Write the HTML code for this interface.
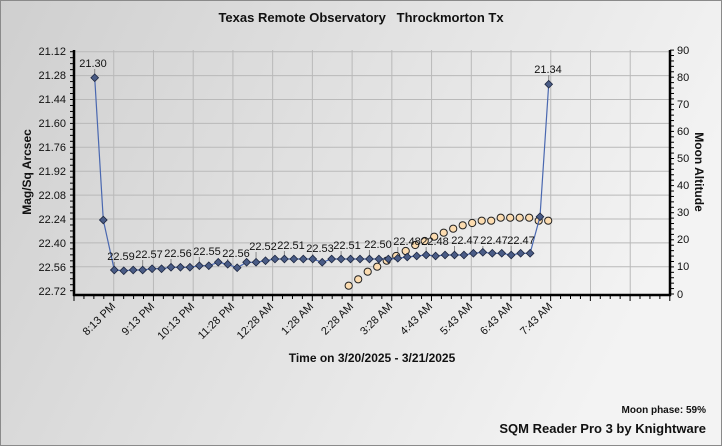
<!DOCTYPE html>
<html><head><meta charset="utf-8"><style>
body{margin:0;width:722px;height:446px;overflow:hidden}
svg{display:block;font-family:"Liberation Sans",sans-serif}
</style></head><body>
<svg id="s" width="722" height="446" viewBox="0 0 722 446">
<defs>
<linearGradient id="bg" x1="0" y1="0" x2="1" y2="0.3">
<stop offset="0" stop-color="#cfcfcf"/><stop offset="1" stop-color="#f3f3f3"/></linearGradient>
</defs>
<rect x="0" y="0" width="722" height="446" fill="url(#bg)"/>
<rect x="0.5" y="0.5" width="721" height="445" fill="none" stroke="#8a8a8a"/>
<text x="361" y="22" text-anchor="middle" font-size="13" font-weight="bold" fill="#111">Texas Remote Observatory&#160;&#160;&#160;Throckmorton Tx</text>
<g id="grid" stroke="#b9b9b9" stroke-width="1"></g>
<g id="ticks" stroke="#000" stroke-width="1"></g>
<line x1="74" y1="50" x2="74" y2="296" stroke="#000" stroke-width="2.5"/>
<line x1="670" y1="50" x2="670" y2="296" stroke="#000" stroke-width="2.5"/>
<line x1="73" y1="295" x2="671" y2="295" stroke="#000" stroke-width="2.5"/>
<g font-size="11" fill="#111" text-anchor="end">
<text x="66" y="55">21.12</text><text x="66" y="79">21.28</text><text x="66" y="103">21.44</text><text x="66" y="127">21.60</text><text x="66" y="151">21.76</text><text x="66" y="175">21.92</text><text x="66" y="199">22.08</text><text x="66" y="223">22.24</text><text x="66" y="247">22.40</text><text x="66" y="271">22.56</text><text x="66" y="295">22.72</text>
</g>
<g font-size="11" fill="#111">
<text x="677" y="54">90</text><text x="677" y="81">80</text><text x="677" y="108">70</text><text x="677" y="135">60</text><text x="677" y="162">50</text><text x="677" y="189">40</text><text x="677" y="216">30</text><text x="677" y="243">20</text><text x="677" y="270">10</text><text x="677" y="298">0</text>
</g>
<text transform="translate(31,172) rotate(-90)" text-anchor="middle" font-size="12" font-weight="bold" fill="#111">Mag/Sq Arcsec</text>
<text transform="translate(695,172) rotate(90)" text-anchor="middle" font-size="12" font-weight="bold" fill="#111">Moon Altitude</text>
<g font-size="11" fill="#111" text-anchor="end">
<text transform="translate(116,307) rotate(-45)">8:13 PM</text>
<text transform="translate(155,307) rotate(-45)">9:13 PM</text>
<text transform="translate(195,307) rotate(-45)">10:13 PM</text>
<text transform="translate(235,307) rotate(-45)">11:28 PM</text>
<text transform="translate(274,307) rotate(-45)">12:28 AM</text>
<text transform="translate(314,307) rotate(-45)">1:28 AM</text>
<text transform="translate(354,307) rotate(-45)">2:28 AM</text>
<text transform="translate(393,307) rotate(-45)">3:28 AM</text>
<text transform="translate(433,307) rotate(-45)">4:43 AM</text>
<text transform="translate(473,307) rotate(-45)">5:43 AM</text>
<text transform="translate(513,307) rotate(-45)">6:43 AM</text>
<text transform="translate(553,307) rotate(-45)">7:43 AM</text>
</g>
<text x="372" y="362" text-anchor="middle" font-size="12" font-weight="bold" fill="#111">Time on 3/20/2025 - 3/21/2025</text>
<text x="706" y="413" text-anchor="end" font-size="10" font-weight="bold" fill="#111">Moon phase: 59%</text>
<text x="706" y="433" text-anchor="end" font-size="13" font-weight="bold" fill="#111">SQM Reader Pro 3 by Knightware</text>
<g id="lbl" stroke="#888" stroke-width="1"></g>
<g id="ser"></g>
<g font-size="11" fill="#111" text-anchor="middle">
<text x="93" y="67">21.30</text><text x="121" y="260">22.59</text><text x="149" y="258">22.57</text><text x="178" y="257">22.56</text><text x="207" y="255">22.55</text><text x="236" y="257">22.56</text><text x="263" y="250">22.52</text><text x="291" y="249">22.51</text><text x="320" y="252">22.53</text><text x="347" y="249">22.51</text><text x="378" y="248">22.50</text><text x="407" y="245">22.48</text><text x="435" y="245">22.48</text><text x="465" y="244">22.47</text><text x="494" y="244">22.47</text><text x="521" y="244">22.47</text><text x="548" y="73">21.34</text>
</g>
</svg>
<script>
var NS="http://www.w3.org/2000/svg";
function el(p,t,a){var e=document.createElementNS(NS,t);for(var k in a)e.setAttribute(k,a[k]);p.appendChild(e);return e;}
var g=document.getElementById('grid'),tk=document.getElementById('ticks');
for(var i=1;i<=15;i++){var x=74+i*39.73;el(g,'line',{x1:x,y1:50,x2:x,y2:294});}
for(var i=0;i<10;i++){var y=51.7+i*23.9;el(g,'line',{x1:74,y1:y,x2:670,y2:y});}
for(var i=0;i<=60;i++){var x=74+i*9.93;el(tk,'line',{x1:x,y1:295,x2:x,y2:i%4==0?301:299});}
for(var i=0;i<=40;i++){var y=51.7+i*5.975;el(tk,'line',{x1:70,y1:y,x2:74,y2:y});}
for(var i=0;i<=45;i++){var y=294-i*5.42;el(tk,'line',{x1:670,y1:y,x2:674,y2:y});}
var by=[270,270.7,270,270,268.7,268.7,267.3,267.3,267.3,265.7,265.7,262.3,264.3,267.7,262.3,262.3,260.7,259,259,259,259,259,262.3,259,259,259,259,259,259,259,258.3,257,256,255,256,255,255,255,253.3,252.3,253.3,253.3,255,253.3,253.3];
var pts=[[94.7,77.7],[103.3,220]];
for(var i=0;i<by.length;i++)pts.push([114.3+i*9.45,by[i]]);
pts.push([540,216.7]);pts.push([548.7,84.3]);
var lb=document.getElementById('lbl');
[[0,69],[2,262],[5,260],[8,259],[11,257],[14,259],[17,252],[20,251],[23,254],[26,251],[29,250],[32,247],[35,247],[38,246],[41,246],[44,246],[48,75]].forEach(function(a){var p=pts[a[0]];el(lb,'line',{x1:p[0],y1:a[1],x2:p[0],y2:p[1]});});
var s=document.getElementById('ser');
var oy=[285.7,279.3,271.7,266.7,260.7,256,251,245,241,236.7,232.7,228.7,225.3,223,220.7,220.7,217.7,217.7,217.7,217.7,220.7,220.7];
for(var i=0;i<oy.length;i++){el(s,'circle',{cx:348.7+i*9.5,cy:oy[i],r:3.6,fill:'#fcdcb0',stroke:'#222','stroke-width':1});}
el(s,'polyline',{points:pts.map(function(p){return p.join(',')}).join(' '),fill:'none',stroke:'#4a68b0','stroke-width':1.2});
pts.forEach(function(p){el(s,'rect',{x:p[0]-2.7,y:p[1]-2.7,width:5.4,height:5.4,fill:'#4a5c86',stroke:'#1c2640','stroke-width':0.8,transform:'rotate(45 '+p[0]+' '+p[1]+')'});});
</script>
</body></html>
